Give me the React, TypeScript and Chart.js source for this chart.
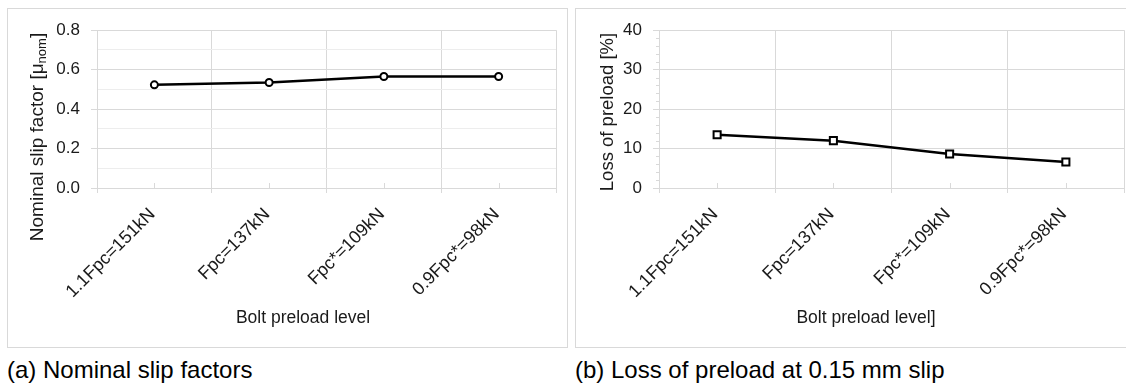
import React, { useEffect, useRef } from 'react';
import { Chart, registerables } from 'chart.js';

Chart.register(...registerables);

// ---------- data ----------
const categories = ['1.1Fpc=151kN', 'Fpc=137kN', 'Fpc*=109kN', '0.9Fpc*=98kN'];
const slipFactor = [0.523, 0.535, 0.565, 0.565];
const preloadLoss = [13.5, 12.0, 8.6, 6.6];
const slipRange = [0, 0.8];
const lossRange = [0, 40];
const xTitleA = 'Bolt preload level';
const xTitleB = 'Bolt preload level]';
const captionA = '(a) Nominal slip factors';
const captionB = '(b) Loss of preload at 0.15 mm slip';

const FONT = "'Liberation Sans', Arial, sans-serif";
const GRID = '#d9d9d9';
const GRID_MINOR = '#ededed';
const TEXT = '#1a1a1a';

type Part = { text: string; sub?: boolean };

function titlesPlugin(yParts: Part[], yCx: number, yCy: number, ySize: number, xText: string, xCx: number, xCy: number, xSize: number) {
  return {
    id: 'titles',
    afterDraw(chart: any) {
      const ctx = chart.ctx;
      ctx.save();
      ctx.fillStyle = TEXT;
      ctx.textBaseline = 'middle';
      // x title
      ctx.font = `${xSize}px ${FONT}`;
      ctx.textAlign = 'center';
      ctx.fillText(xText, xCx, xCy);
      // y title (rotated, with subscript)
      ctx.translate(yCx, yCy);
      ctx.rotate(-Math.PI / 2);
      ctx.textAlign = 'left';
      const subSize = Math.round(ySize * 0.68);
      let total = 0;
      const widths = yParts.map((p) => {
        ctx.font = `${p.sub ? subSize : ySize}px ${FONT}`;
        const w = ctx.measureText(p.text).width;
        total += w;
        return w;
      });
      let x = -total / 2;
      yParts.forEach((p, i) => {
        ctx.font = `${p.sub ? subSize : ySize}px ${FONT}`;
        ctx.fillText(p.text, x, p.sub ? 4 : 0);
        x += widths[i];
      });
      ctx.restore();
    },
  };
}

const centerMarksPlugin = {
  id: 'centerMarks',
  beforeDatasetsDraw(chart: any) {
    const xs = chart.scales.x;
    const ctx = chart.ctx;
    ctx.save();
    ctx.strokeStyle = GRID;
    ctx.lineWidth = 1;
    for (let i = 0; i < categories.length; i++) {
      const x = Math.round(xs.getPixelForValue(i)) + 0.5;
      ctx.beginPath();
      ctx.moveTo(x, xs.top);
      ctx.lineTo(x, xs.top - 5);
      ctx.stroke();
    }
    ctx.restore();
  },
};

function minorYTicksPlugin(step: number, major: number) {
  return {
    id: 'minorYTicks',
    afterDraw(chart: any) {
      const ys = chart.scales.y;
      const ctx = chart.ctx;
      ctx.save();
      ctx.strokeStyle = GRID;
      ctx.lineWidth = 1;
      for (let v = ys.min + step; v < ys.max; v += step) {
        if (Math.abs(v / major - Math.round(v / major)) < 1e-6) continue;
        const y = Math.round(ys.getPixelForValue(v)) + 0.5;
        ctx.beginPath();
        ctx.moveTo(ys.right - 3, y);
        ctx.lineTo(ys.right, y);
        ctx.stroke();
      }
      ctx.restore();
    },
  };
}

function buildConfig(kind: 'a' | 'b') {
  const isA = kind === 'a';
  const yWidth = isA ? 89 : 83;
  const plugins: any[] = [
    centerMarksPlugin,
    isA
      ? titlesPlugin(
          [{ text: 'Nominal slip factor [μ' }, { text: 'nom', sub: true }, { text: ']' }],
          30, 128, 19, xTitleA, 295, 309, 17.5)
      : titlesPlugin([{ text: 'Loss of preload [%]' }], 32, 103, 18.5, xTitleB, 290, 309, 17.5),
  ];
  if (!isA) plugins.push(minorYTicksPlugin(2, 10));

  const yScale: any = isA
    ? {
        min: slipRange[0],
        max: slipRange[1],
        ticks: {
          stepSize: 0.1,
          autoSkip: false,
          padding: 11,
          color: TEXT,
          font: { family: FONT, size: 17 },
          callback: (v: number) => (Math.round(v * 10) % 2 === 0 ? v.toFixed(1) : ''),
        },
        grid: {
          color: (c: any) => (Math.round(c.tick.value * 10) % 2 === 0 ? GRID : GRID_MINOR),
          tickColor: (c: any) => (Math.round(c.tick.value * 10) % 2 === 0 ? GRID : 'rgba(0,0,0,0)'),
          tickLength: 6,
        },
        border: { color: GRID },
        afterFit: (s: any) => { s.width = yWidth; },
      }
    : {
        min: lossRange[0],
        max: lossRange[1],
        ticks: {
          stepSize: 10,
          padding: 11,
          color: TEXT,
          font: { family: FONT, size: 17 },
        },
        grid: { color: GRID, tickColor: GRID, tickLength: 6 },
        border: { color: GRID },
        afterFit: (s: any) => { s.width = yWidth; },
      };

  const dataset: any = {
    data: isA ? slipFactor : preloadLoss,
    borderColor: '#000',
    borderWidth: 2.5,
    pointStyle: isA ? 'circle' : 'rect',
    pointRadius: isA ? 3.5 : 5,
    pointBorderWidth: 2,
    pointBackgroundColor: '#fff',
    pointBorderColor: '#000',
    tension: 0,
    fill: false,
  };

  return {
    type: 'line',
    data: { labels: categories, datasets: [dataset] },
    options: {
      animation: false,
      responsive: false,
      devicePixelRatio: 1,
      layout: { padding: { top: 18, right: 11, left: 0, bottom: 0 } },
      plugins: { legend: { display: false }, tooltip: { enabled: false } },
      scales: {
        x: {
          type: 'category',
          offset: true,
          grid: { offset: true, color: GRID, tickColor: GRID, tickLength: 5 },
          border: { color: GRID },
          ticks: {
            autoSkip: false,
            minRotation: 45,
            maxRotation: 45,
            padding: 11,
            labelOffset: -2,
            color: TEXT,
            font: { family: FONT, size: 18 },
          },
          afterFit: (s: any) => { s.height = 159; },
        },
        y: yScale,
      },
    },
    plugins,
  };
}

function Panel({ kind, left }: { kind: 'a' | 'b'; left: number }) {
  const ref = useRef<HTMLCanvasElement>(null);
  useEffect(() => {
    if (!ref.current) return;
    const chart = new Chart(ref.current, buildConfig(kind) as any);
    return () => chart.destroy();
  }, [kind]);
  return (
    <div
      style={{
        position: 'absolute',
        left,
        top: 8,
        width: 561,
        height: 340,
        boxSizing: 'border-box',
        border: `1px solid ${GRID}`,
        background: '#fff',
      }}
    >
      <canvas ref={ref} width={559} height={338} style={{ display: 'block', width: 559, height: 338 }} />
    </div>
  );
}

export default function App() {
  const capStyle: React.CSSProperties = {
    position: 'absolute',
    top: 356,
    fontFamily: FONT,
    fontSize: 24,
    lineHeight: '27px',
    color: '#000',
    whiteSpace: 'nowrap',
  };
  return (
    <div
      style={{
        position: 'absolute',
        left: 0,
        top: 0,
        width: 1126,
        height: 385,
        overflow: 'hidden',
        background: '#fff',
      }}
    >
      <Panel kind="a" left={7} />
      <Panel kind="b" left={575} />
      <div style={{ ...capStyle, left: 7 }}>{captionA}</div>
      <div style={{ ...capStyle, left: 575 }}>{captionB}</div>
    </div>
  );
}
